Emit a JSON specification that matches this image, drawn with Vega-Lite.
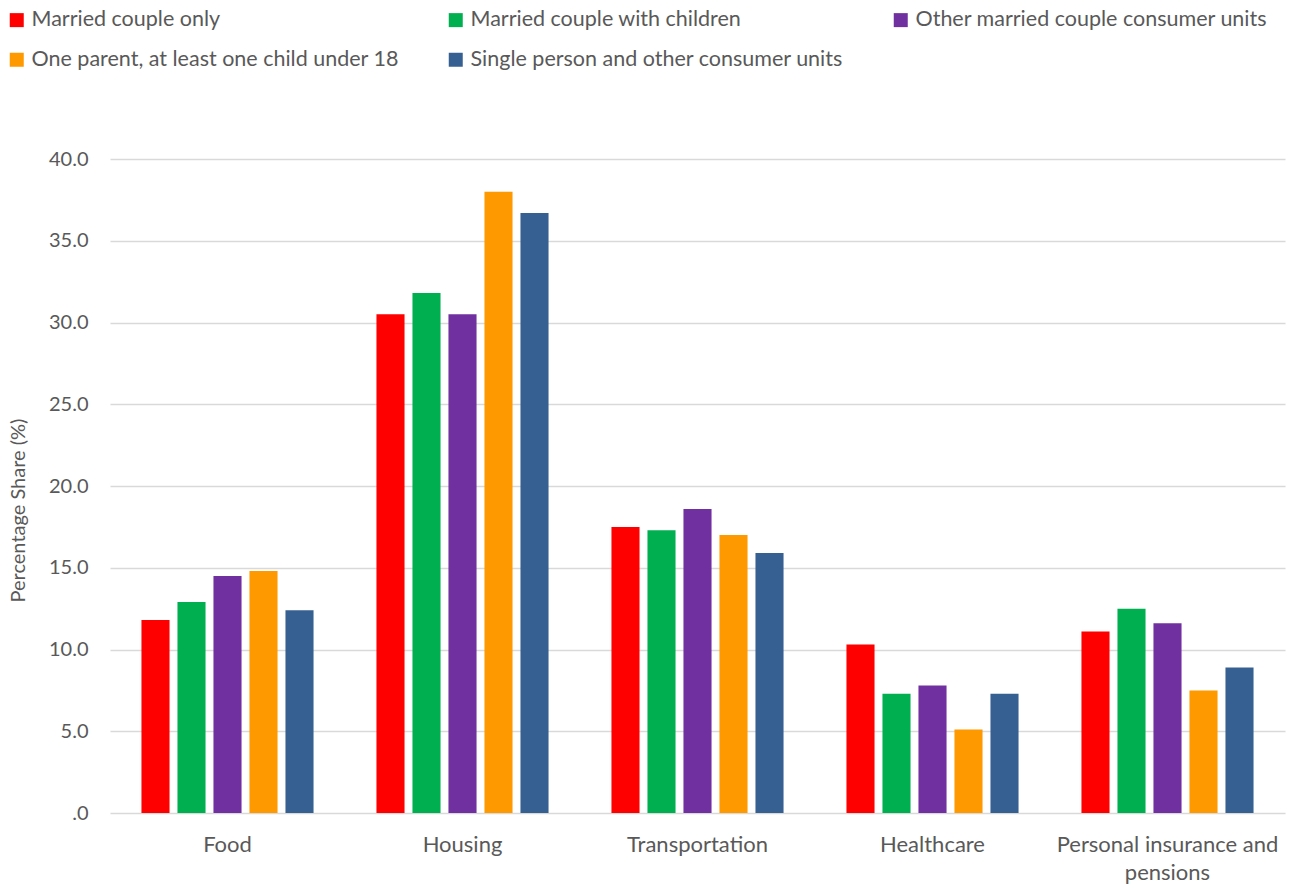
{
  "$schema": "https://vega.github.io/schema/vega-lite/v6.json",
  "width": 1175,
  "height": 654,
  "autosize": {"type": "none"},
  "padding": {"left": 110, "top": 159, "right": 7, "bottom": 75},
  "background": "white",
  "config": {
    "font": "Lato",
    "view": {"stroke": null}
  },
  "data": {
    "values": [
      {"category": "Food", "group": "Married couple only", "share": 11.8},
      {"category": "Food", "group": "Married couple with children", "share": 12.9},
      {"category": "Food", "group": "Other married couple consumer units", "share": 14.5},
      {"category": "Food", "group": "One parent, at least one child under 18", "share": 14.8},
      {"category": "Food", "group": "Single person and other consumer units", "share": 12.4},
      {"category": "Housing", "group": "Married couple only", "share": 30.5},
      {"category": "Housing", "group": "Married couple with children", "share": 31.8},
      {"category": "Housing", "group": "Other married couple consumer units", "share": 30.5},
      {"category": "Housing", "group": "One parent, at least one child under 18", "share": 38.0},
      {"category": "Housing", "group": "Single person and other consumer units", "share": 36.7},
      {"category": "Transportation", "group": "Married couple only", "share": 17.5},
      {"category": "Transportation", "group": "Married couple with children", "share": 17.3},
      {"category": "Transportation", "group": "Other married couple consumer units", "share": 18.6},
      {"category": "Transportation", "group": "One parent, at least one child under 18", "share": 17.0},
      {"category": "Transportation", "group": "Single person and other consumer units", "share": 15.9},
      {"category": "Healthcare", "group": "Married couple only", "share": 10.3},
      {"category": "Healthcare", "group": "Married couple with children", "share": 7.3},
      {"category": "Healthcare", "group": "Other married couple consumer units", "share": 7.8},
      {"category": "Healthcare", "group": "One parent, at least one child under 18", "share": 5.1},
      {"category": "Healthcare", "group": "Single person and other consumer units", "share": 7.3},
      {"category": "Personal insurance and pensions", "group": "Married couple only", "share": 11.1},
      {"category": "Personal insurance and pensions", "group": "Married couple with children", "share": 12.5},
      {"category": "Personal insurance and pensions", "group": "Other married couple consumer units", "share": 11.6},
      {"category": "Personal insurance and pensions", "group": "One parent, at least one child under 18", "share": 7.5},
      {"category": "Personal insurance and pensions", "group": "Single person and other consumer units", "share": 8.9}
    ]
  },
  "mark": {"type": "bar"},
  "encoding": {
    "x": {
      "field": "category",
      "type": "nominal",
      "sort": ["Food", "Housing", "Transportation", "Healthcare", "Personal insurance and pensions"],
      "scale": {"paddingInner": 0.234, "paddingOuter": 0.117},
      "axis": {
        "title": null,
        "labelAngle": 0,
        "labelFontSize": 22,
        "labelColor": "#595959",
        "labelPadding": 21,
        "labelLineHeight": 28,
        "labelLimit": 400,
        "labelExpr": "datum.value == 'Personal insurance and pensions' ? ['Personal insurance and', 'pensions'] : datum.value",
        "domain": false,
        "ticks": false,
        "grid": false
      }
    },
    "xOffset": {
      "field": "group",
      "type": "nominal",
      "sort": ["Married couple only", "Married couple with children", "Other married couple consumer units", "One parent, at least one child under 18", "Single person and other consumer units"],
      "scale": {"paddingInner": 0.22, "paddingOuter": 0.11}
    },
    "y": {
      "field": "share",
      "type": "quantitative",
      "scale": {"domain": [0, 40], "nice": false},
      "axis": {
        "title": "Percentage Share (%)",
        "titleFontSize": 20,
        "titleFontWeight": "normal",
        "titleColor": "#595959",
        "titlePadding": 20,
        "titleY": 351,
        "values": [0, 5, 10, 15, 20, 25, 30, 35, 40],
        "labelExpr": "datum.value == 0 ? '.0' : format(datum.value, '.1f')",
        "labelFontSize": 20,
        "labelColor": "#595959",
        "labelPadding": 22,
        "domain": false,
        "ticks": false,
        "grid": true,
        "gridColor": "#D9D9D9",
        "gridWidth": 1.5
      }
    },
    "color": {
      "field": "group",
      "type": "nominal",
      "sort": ["Married couple only", "Married couple with children", "Other married couple consumer units", "One parent, at least one child under 18", "Single person and other consumer units"],
      "scale": {
        "domain": ["Married couple only", "Married couple with children", "Other married couple consumer units", "One parent, at least one child under 18", "Single person and other consumer units"],
        "range": ["#FF0000", "#00B050", "#7030A0", "#FF9900", "#376092"]
      },
      "legend": {
        "title": null,
        "orient": "none",
        "legendX": -104,
        "legendY": -150,
        "direction": "horizontal",
        "columns": 3,
        "columnPadding": 46,
        "rowPadding": 17,
        "symbolType": "square",
        "symbolSize": 196,
        "symbolStrokeWidth": 0,
        "symbolOpacity": 1,
        "labelFontSize": 21.5,
        "labelColor": "#595959",
        "labelOffset": 4,
        "labelLimit": 500
      }
    }
  }
}
